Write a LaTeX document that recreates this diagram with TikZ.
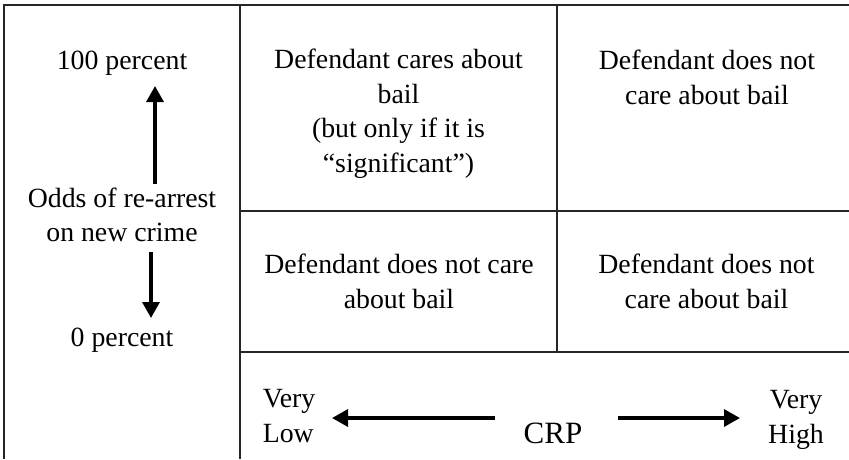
\documentclass[tikz,border=0pt]{standalone}
\usepackage{fontspec}
\setmainfont{Liberation Serif}
\usetikzlibrary{arrows.meta}

\begin{document}
\begin{tikzpicture}[x=1pt, y=-1pt, line width=1.6pt,
  txt/.style={font=\fontsize{27.8}{34.5}\selectfont, align=center, inner sep=0pt, anchor=base},
  arr/.style={line width=3.3pt, -{Triangle[length=16pt,width=17pt]}}]
\useasboundingbox (0,0) rectangle (849,459);
% 表格线
\draw[black!85] (4,459) -- (4,5) -- (849,5);
\draw[black!85] (240,5) -- (240,459);
\draw[black!85] (557,5) -- (557,352);
\draw[black!85] (240,211) -- (849,211);
\draw[black!85] (240,352) -- (849,352);

% 左栏: 再逮捕的几率
\node[txt] (hundred) at (122,69) {100 percent};
\node[txt] (odds) at (122,241.5) {Odds of re-arrest\\on new crime};
\node[txt] (zero) at (122,346) {0 percent};
\coordinate (upS) at (155,184);
\coordinate (upE) at (155,86);
\coordinate (dnS) at (151,252);
\coordinate (dnE) at (151,318);
\draw[arr] (upS) -- (upE);
\draw[arr] (dnS) -- (dnE);

% 四个格子
\node[txt] (cares) at (398.5,172) {Defendant cares about\\bail\\(but only if it is\\“significant”)};
\node[txt] (notA) at (707,104) {Defendant does not\\care about bail};
\node[txt] (notB) at (399,308) {Defendant does not care\\about bail};
\node[txt] (notC) at (706.5,308) {Defendant does not\\care about bail};

% 底栏: CRP
\node[txt, align=left, anchor=base west] (vlow) at (262,442) {Very\\Low};
\node[txt] (vhigh) at (796,443) {Very\\High};
\node[txt, font=\fontsize{31}{34.5}\selectfont] (crp) at (553,443) {CRP};
\coordinate (lS) at (495,418);
\coordinate (lE) at (332,418);
\coordinate (rS) at (618,418);
\coordinate (rE) at (740,418);
\draw[arr] (lS) -- (lE);
\draw[arr] (rS) -- (rE);
\end{tikzpicture}
\end{document}
